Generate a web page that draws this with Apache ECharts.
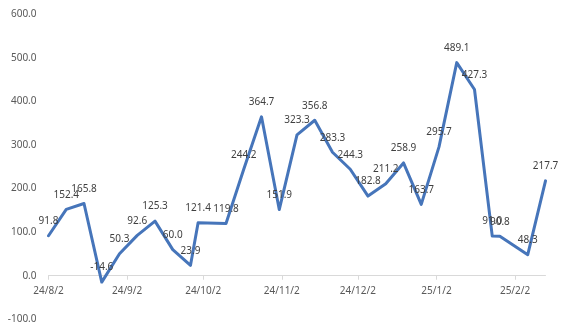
<!DOCTYPE html>
<html>
<head>
<meta charset="utf-8">
<script src="https://cdn.jsdelivr.net/npm/echarts@6/dist/echarts.min.js"></script>
<style>
html,body{margin:0;padding:0;background:#fff;}
#chart{width:572px;height:329px;}
</style>
</head>
<body>
<div id="chart"></div>
<script>
// Data (weekly observation dates and values)
var dates = ['2024-08-02','2024-08-09','2024-08-16','2024-08-23','2024-08-30',
  '2024-09-06','2024-09-13','2024-09-20','2024-09-27','2024-09-30',
  '2024-10-11','2024-10-18','2024-10-25','2024-11-01','2024-11-08',
  '2024-11-15','2024-11-22','2024-11-29','2024-12-06','2024-12-13',
  '2024-12-20','2024-12-27','2025-01-03','2025-01-10','2025-01-17',
  '2025-01-24','2025-01-27','2025-02-07','2025-02-14'];
var values = [91.8,152.4,165.8,-14.6,50.3,
  92.6,125.3,60.0,23.9,121.4,
  119.8,244.2,364.7,151.9,323.3,
  356.8,283.3,244.3,182.8,211.2,
  258.9,163.7,295.7,489.1,427.3,
  91.0,90.8,48.3,217.7];
var tickDates = ['2024-08-02','2024-09-02','2024-10-02','2024-11-02','2024-12-02','2025-01-02','2025-02-02'];
var tickLabels = ['24/8/2','24/9/2','24/10/2','24/11/2','24/12/2','25/1/2','25/2/2'];
var yTicks = [-100,0,100,200,300,400,500,600];

function toTime(s){
  var p = s.split('-');
  return Date.UTC(+p[0], +p[1]-1, +p[2]);
}
var tickTimes = tickDates.map(toTime);
var seriesData = dates.map(function(d,i){ return [toTime(d), values[i]]; });
var xMin = tickTimes[0];
var xMax = seriesData[seriesData.length-1][0];

var FONT = 'Noto Sans';
var LEFT = 48.5, RIGHT = 26.5, TOP = 14.3, BOTTOM = 9.7;
var H = 329 - TOP - BOTTOM;
var yMin = yTicks[0], yMax = yTicks[yTicks.length-1];
// bottom offset of the zero line for the axis-carrying grid
var zeroBottom = BOTTOM + H * (0 - yMin) / (yMax - yMin);

var chart = echarts.init(document.getElementById('chart'), null, {renderer:'canvas'});
chart.setOption({
  animation: false,
  backgroundColor: '#ffffff',
  grid: [
    {left: LEFT, right: RIGHT, top: TOP, bottom: BOTTOM, containLabel: false, outerBoundsMode: 'none'},
    {left: LEFT, right: RIGHT, top: TOP, bottom: zeroBottom, containLabel: false, outerBoundsMode: 'none'}
  ],
  xAxis: [{
    gridIndex: 0, type: 'value', min: xMin, max: xMax, show: false
  }, {
    gridIndex: 1, type: 'value', min: xMin, max: xMax, position: 'bottom',
    axisLine: {show: true, onZero: false, lineStyle: {color: '#D9D9D9', width: 1}},
    axisTick: {show: true, inside: false, length: 4, lineStyle: {color: '#D9D9D9'}, customValues: tickTimes},
    splitLine: {show: false},
    minorTick: {show: false},
    axisLabel: {
      customValues: tickTimes,
      color: '#595959', fontFamily: FONT, fontSize: 10, margin: 10,
      showMinLabel: true, showMaxLabel: true, hideOverlap: false,
      formatter: function(v){
        var i = tickTimes.indexOf(v);
        return i >= 0 ? tickLabels[i] : '';
      }
    }
  }],
  yAxis: [{
    gridIndex: 0, type: 'value',
    min: yMin, max: yMax, interval: 100,
    axisLine: {show: false},
    axisTick: {show: false},
    splitLine: {show: false},
    axisLabel: {
      color: '#595959', fontFamily: FONT, fontSize: 10, margin: 12,
      formatter: function(v){ return v.toFixed(1); }
    }
  }, {
    gridIndex: 1, type: 'value', min: 0, max: yMax, show: false
  }],
  series: [{
    type: 'line',
    xAxisIndex: 0, yAxisIndex: 0,
    data: seriesData,
    symbol: 'circle',
    symbolSize: 1,
    showSymbol: true,
    itemStyle: {color: '#4675BA'},
    lineStyle: {color: '#4675BA', width: 3, cap: 'round', join: 'round'},
    label: {
      show: true, position: 'top', distance: 9,
      color: '#404040', fontFamily: FONT, fontSize: 10,
      formatter: function(p){ return p.value[1].toFixed(1); }
    },
    labelLayout: {hideOverlap: false},
    emphasis: {disabled: true}
  }]
});
</script>
</body>
</html>
